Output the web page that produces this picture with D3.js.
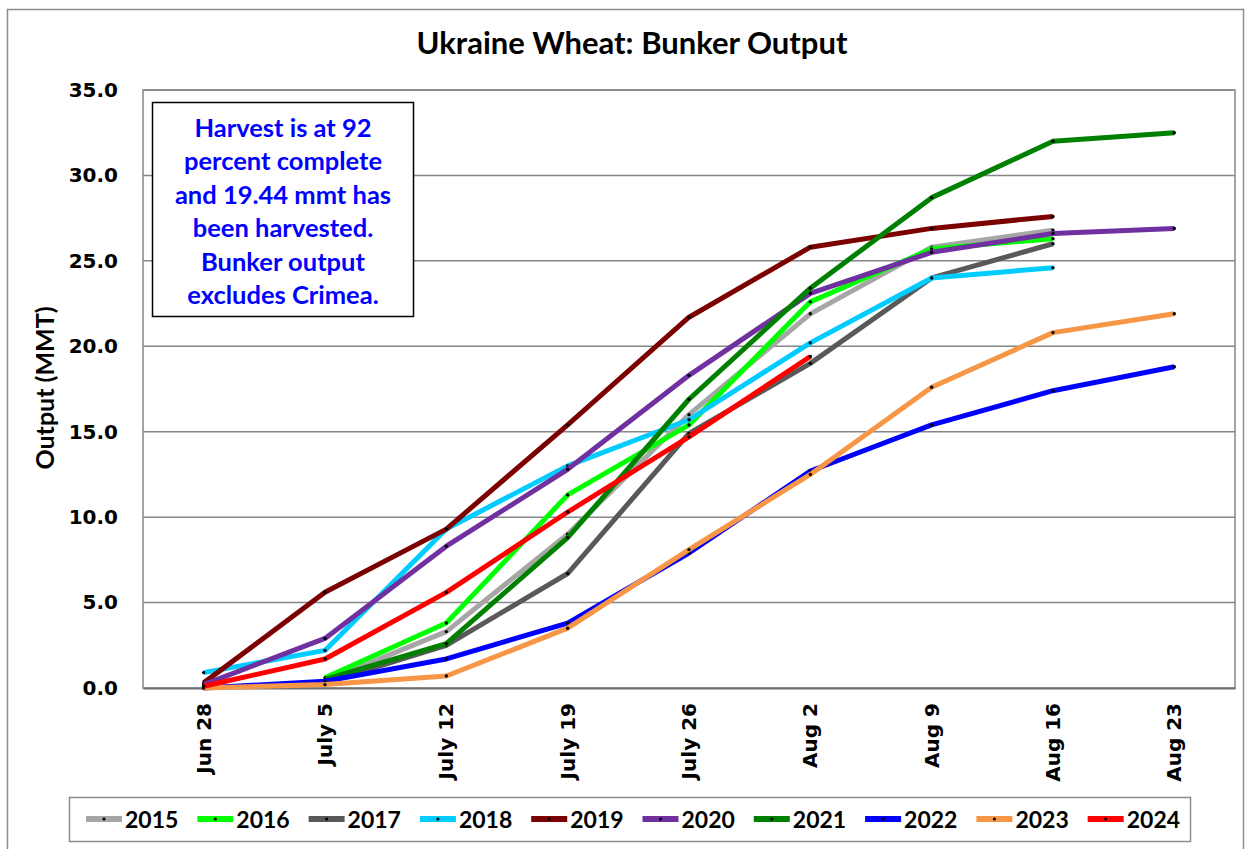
<!DOCTYPE html>
<html>
<head>
    <script src="https://d3js.org/d3.v7.min.js"></script>
    <style>
        body { margin: 0; background: #fff; }
        .tick text { font-family: "DejaVu Sans", Verdana, sans-serif; font-weight: bold; fill: #000; }
        .lbl { font-family: Lato, "Open Sans", sans-serif; font-weight: bold; }
    </style>
</head>
<body>
    <svg width="1250" height="849"></svg>
    <script>
        var weeks = ["Jun 28", "July 5", "July 12", "July 19", "July 26", "Aug 2", "Aug 9", "Aug 16", "Aug 23"];
        var yTicks = [0, 5, 10, 15, 20, 25, 30, 35];

        // bunker output, million tonnes (null = no report)
        var v2015 = [null, 0.4, 3.3, 9.0, 16.0, 21.9, 25.8, 26.8, null];
        var v2016 = [null, 0.6, 3.8, 11.3, 15.4, 22.6, 25.7, 26.3, null];
        var v2017 = [null, 0.3, 2.5, 6.7, 14.9, 19.0, 24.0, 26.0, null];
        var v2018 = [0.9, 2.2, 9.3, 13.0, 15.7, 20.2, 24.0, 24.6, null];
        var v2019 = [0.3, 5.6, 9.3, 15.4, 21.7, 25.8, 26.9, 27.6, null];
        var v2020 = [0.2, 2.9, 8.3, 12.8, 18.3, 23.1, 25.5, 26.6, 26.9];
        var v2021 = [null, 0.5, 2.6, 8.8, 16.9, 23.4, 28.7, 32.0, 32.5];
        var v2022 = [0.0, 0.4, 1.7, 3.8, 7.9, 12.7, 15.4, 17.4, 18.8];
        var v2023 = [0.0, 0.2, 0.7, 3.5, 8.1, 12.5, 17.6, 20.8, 21.9];
        var v2024 = [0.1, 1.7, 5.6, 10.3, 14.7, 19.4, null, null, null];

        var years = ["2015", "2016", "2017", "2018", "2019", "2020", "2021", "2022", "2023", "2024"];
        var colors = ["#a6a6a6", "#00ff00", "#595959", "#00ccff", "#7b0000", "#7030a0", "#008000", "#0000ff", "#f79646", "#ff0000"];
        var values = [v2015, v2016, v2017, v2018, v2019, v2020, v2021, v2022, v2023, v2024];

        var note = ["Harvest is at 92", "percent complete", "and 19.44 mmt has",
                    "been harvested.", "Bunker output", "excludes Crimea."];

        var series = years.map(function(y, i) {
            return {year: y, color: colors[i], values: values[i]};
        });

        var svg = d3.select("svg"),
            margin = {top: 90, right: 15, bottom: 161, left: 143},
            width = +svg.attr("width") - margin.left - margin.right,
            height = +svg.attr("height") - margin.top - margin.bottom;

        // outer chart frame
        svg.append("rect")
            .attr("x", 7.5).attr("y", 9.5)
            .attr("width", 1236).attr("height", 860)
            .attr("fill", "none")
            .attr("stroke", "#8c8c8c")
            .attr("stroke-width", 1.5);

        svg.append("text")
            .attr("class", "lbl")
            .attr("x", 632).attr("y", 54)
            .attr("text-anchor", "middle")
            .style("font-size", "31px")
            .text("Ukraine Wheat: Bunker Output");

        var x = d3.scaleBand().domain(weeks).range([0, width]),
            y = d3.scaleLinear().domain([0, 35]).range([height, 0]);

        var cx = function(i) { return x(weeks[i]) + x.bandwidth() / 2; };

        var g = svg.append("g")
            .attr("transform", "translate(" + margin.left + "," + margin.top + ")");

        // gridlines
        g.append("g")
            .selectAll("line")
            .data(yTicks.slice(1))
            .enter().append("line")
            .attr("x1", 0).attr("x2", width)
            .attr("y1", function(d) { return y(d); })
            .attr("y2", function(d) { return y(d); })
            .attr("stroke", "#868686")
            .attr("stroke-width", 1.5);

        g.append("rect")
            .attr("width", width).attr("height", height)
            .attr("fill", "none")
            .attr("stroke", "#868686")
            .attr("stroke-width", 1.5);

        var yAxis = d3.axisLeft(y).tickValues(yTicks).tickFormat(d3.format(".1f")).tickSize(0).tickPadding(25);
        g.append("g").call(yAxis)
            .call(function(a) { a.select(".domain").remove(); })
            .selectAll("text").style("font-size", "20px");

        var xAxis = d3.axisBottom(x).tickSize(0).tickPadding(0);
        var xa = g.append("g")
            .attr("transform", "translate(0," + height + ")")
            .call(xAxis);
        xa.select(".domain").attr("stroke", "#6e6e6e").attr("stroke-width", 2);
        xa.selectAll("text")
            .style("font-size", "20px")
            .attr("text-anchor", "end")
            .attr("transform", "rotate(-90)")
            .attr("x", -15).attr("y", 0)
            .attr("dy", "0.35em");

        svg.append("text")
            .attr("class", "lbl")
            .attr("transform", "translate(54,388) rotate(-90)")
            .attr("text-anchor", "middle")
            .style("font-size", "25px")
            .text("Output (MMT)");

        // annotation
        svg.append("rect")
            .attr("x", 152.5).attr("y", 102.5)
            .attr("width", 261).attr("height", 214)
            .attr("fill", "#fff")
            .attr("stroke", "#000")
            .attr("stroke-width", 1.5);

        svg.append("g").selectAll("text")
            .data(note)
            .enter().append("text")
            .attr("class", "lbl")
            .attr("x", 283)
            .attr("y", function(d, i) { return 137 + i * 33.4; })
            .attr("text-anchor", "middle")
            .attr("fill", "#0000ff")
            .style("font-size", "25.5px")
            .text(function(d) { return d; });

        var line = d3.line()
            .defined(function(d) { return d.v != null; })
            .x(function(d) { return cx(d.i); })
            .y(function(d) { return y(d.v); });

        var sg = g.append("g").selectAll("g")
            .data(series)
            .enter().append("g");

        sg.append("path")
            .attr("fill", "none")
            .attr("stroke", function(d) { return d.color; })
            .attr("stroke-width", 5)
            .attr("stroke-linejoin", "round")
            .attr("d", function(d) {
                return line(d.values.map(function(v, i) { return {v: v, i: i}; }));
            });

        sg.selectAll("circle")
            .data(function(d) {
                return d.values.map(function(v, i) { return {v: v, i: i}; })
                    .filter(function(p) { return p.v != null; });
            })
            .enter().append("circle")
            .attr("cx", function(d) { return cx(d.i); })
            .attr("cy", function(d) { return y(d.v); })
            .attr("r", 1.7)
            .attr("fill", "#000");

        // legend
        svg.append("rect")
            .attr("x", 69.5).attr("y", 797.5)
            .attr("width", 1121).attr("height", 44)
            .attr("fill", "#fff")
            .attr("stroke", "#8c8c8c")
            .attr("stroke-width", 1.5);

        var lg = svg.append("g").selectAll("g")
            .data(series)
            .enter().append("g")
            .attr("transform", function(d, i) { return "translate(" + (86 + i * 111.3) + ",819)"; });

        lg.append("line")
            .attr("x1", 0).attr("x2", 36)
            .attr("stroke", function(d) { return d.color; })
            .attr("stroke-width", 6);
        lg.append("circle")
            .attr("cx", 18).attr("r", 1.6).attr("fill", "#000");
        lg.append("text")
            .attr("class", "lbl")
            .attr("x", 39).attr("y", 8.5)
            .style("font-size", "23px")
            .text(function(d) { return d.year; });
    </script>
</body>
</html>
